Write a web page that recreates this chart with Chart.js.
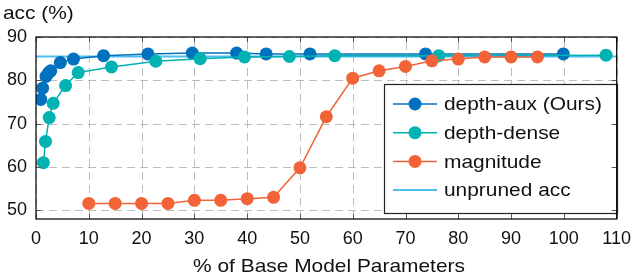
<!DOCTYPE html>
<html>
<head>
<meta charset="utf-8">
<script src="https://cdn.jsdelivr.net/npm/chart.js@4/dist/chart.umd.min.js"></script>
<style>
  html, body { margin: 0; padding: 0; background: #fff; }
  #wrap { width: 640px; height: 280px; position: relative; }
</style>
</head>
<body>
<div id="wrap"><canvas id="chart"></canvas></div>
<script>
// values
const auxX = [0.9, 1.25, 1.9, 2.4, 2.8, 4.6, 7.1, 12.8, 21.2, 29.6, 38, 43.6, 51.9, 73.8, 99.9];
const auxAcc = [75.6, 78.2, 80.9, 81.8, 82.2, 84.1, 84.9, 85.7, 86.1, 86.3, 86.3, 86.1, 86.1, 86.1, 86.1];

const denseX = [1.4, 1.8, 2.5, 3.25, 5.6, 8.0, 14.3, 22.7, 31.1, 39.5, 48.0, 56.6, 76.3, 108];
const denseAcc = [61.0, 65.9, 71.4, 74.7, 78.8, 81.8, 83.1, 84.4, 85.0, 85.4, 85.5, 85.7, 85.7, 85.8];

const magX = [10, 15, 20, 25, 30, 35, 40, 45, 50, 55, 60, 65, 70, 75, 80, 85, 90, 95];
const magAcc = [51.6, 51.6, 51.6, 51.6, 52.3, 52.3, 52.7, 53.0, 59.8, 71.6, 80.5, 82.2, 83.2, 84.5, 84.9, 85.4, 85.4, 85.4];

const unprunedX = [0, 110];
const unprunedAcc = [85.5, 85.5];

const xTicks = [0, 10, 20, 30, 40, 50, 60, 70, 80, 90, 100, 110];
const yTicks = [50, 60, 70, 80, 90];

const seriesNames = ['depth-aux (Ours)', 'depth-dense', 'magnitude', 'unpruned acc'];
const colors = ['#0072BD', '#00B2B2', '#F26337', '#4DBEEE'];
const xTitle = '% of Base Model Parameters';
const yTitle = 'acc (%)';

const FONT = '"Liberation Sans", Arial, Helvetica, sans-serif';

function pts(xs, ys) {
    return xs.map((x, i) => ({ x: x, y: ys[i] }));
}

// text in the original is set a little wider than the font
function wideText(ctx, text, x, y, align) {
    ctx.save();
    ctx.translate(x, y);
    ctx.scale(1.1, 1);
    ctx.textAlign = align;
    ctx.fillText(text, 0, 0);
    ctx.restore();
}

const boxLegend = {
    id: 'boxLegend',
    beforeDatasetsDraw(chart) {
        // dashed grid at each tick
        const a = chart.chartArea;
        const ctx = chart.ctx;
        const xs = chart.scales.x, ys = chart.scales.y;
        ctx.save();
        ctx.strokeStyle = '#bdbdbd';
        ctx.lineWidth = 1;
        ctx.setLineDash([8, 5]);
        xTicks.forEach(v => {
            const px = Math.round(xs.getPixelForValue(v)) + 0.5;
            ctx.beginPath();
            ctx.moveTo(px, a.bottom); ctx.lineTo(px, a.top);
            ctx.stroke();
        });
        yTicks.forEach(v => {
            const py = Math.round(ys.getPixelForValue(v)) + 0.5;
            ctx.beginPath();
            ctx.moveTo(a.left, py); ctx.lineTo(a.right, py);
            ctx.stroke();
        });
        ctx.restore();
    },
    afterDatasetsDraw(chart) {
        // legend inside the plot, like the original
        const ctx = chart.ctx;
        const x0 = 384, y0 = 84, w = 233, h = 129;
        ctx.save();
        ctx.fillStyle = '#fff';
        ctx.fillRect(x0, y0, w, h);
        ctx.strokeStyle = '#222';
        ctx.lineWidth = 1.2;
        ctx.strokeRect(x0 + 0.5, y0 + 0.5, w, h);
        ctx.font = '19px ' + FONT;
        ctx.textBaseline = 'middle';
        seriesNames.forEach((name, i) => {
            const cy = y0 + 20 + i * 28.7;
            ctx.strokeStyle = colors[i];
            ctx.lineWidth = i === 3 ? 2 : 1.5;
            ctx.beginPath();
            ctx.moveTo(x0 + 9, cy);
            ctx.lineTo(x0 + 53, cy);
            ctx.stroke();
            if (i < 3) {
                ctx.fillStyle = colors[i];
                ctx.beginPath();
                ctx.arc(x0 + 31, cy, 6.5, 0, Math.PI * 2);
                ctx.fill();
            }
            ctx.fillStyle = '#111';
            wideText(ctx, name, x0 + 60, cy + 1, 'left');
        });
        ctx.restore();
    },
    afterDraw(chart) {
        const a = chart.chartArea;
        const ctx = chart.ctx;
        ctx.save();
        // small inner tick marks on all four sides
        ctx.strokeStyle = '#555';
        ctx.lineWidth = 1;
        const xs = chart.scales.x, ys = chart.scales.y;
        xTicks.forEach(v => {
            const px = Math.round(xs.getPixelForValue(v)) + 0.5;
            ctx.beginPath();
            ctx.moveTo(px, a.bottom); ctx.lineTo(px, a.bottom - 5);
            ctx.moveTo(px, a.top); ctx.lineTo(px, a.top + 5);
            ctx.stroke();
        });
        yTicks.forEach(v => {
            const py = Math.round(ys.getPixelForValue(v)) + 0.5;
            ctx.beginPath();
            ctx.moveTo(a.left, py); ctx.lineTo(a.left + 5, py);
            ctx.moveTo(a.right, py); ctx.lineTo(a.right - 5, py);
            ctx.stroke();
        });
        ctx.strokeStyle = '#111';
        ctx.lineWidth = 1.3;
        ctx.strokeRect(a.left, a.top, a.right - a.left, a.bottom - a.top);
        // axis titles
        ctx.fillStyle = '#111';
        ctx.font = '19px ' + FONT;
        ctx.textBaseline = 'middle';
        wideText(ctx, yTitle, 3, 14, 'left');
        wideText(ctx, xTitle, 329, 267, 'center');
        ctx.restore();
    }
};

const lineSet = (label, data, color, order) => ({
    label: label,
    data: data,
    borderColor: color,
    backgroundColor: color,
    borderWidth: 1.5,
    pointRadius: 6.5,
    pointHoverRadius: 6.5,
    pointBorderWidth: 0,
    showLine: true,
    tension: 0,
    order: order
});

new Chart(document.getElementById('chart'), {
    type: 'scatter',
    data: {
        datasets: [
            lineSet(seriesNames[0], pts(auxX, auxAcc), colors[0], 3),
            lineSet(seriesNames[1], pts(denseX, denseAcc), colors[1], 2),
            lineSet(seriesNames[2], pts(magX, magAcc), colors[2], 1),
            {
                label: seriesNames[3],
                data: pts(unprunedX, unprunedAcc),
                borderColor: colors[3],
                borderWidth: 2,
                pointRadius: 0,
                showLine: true,
                order: 4
            }
        ]
    },
    options: {
        responsive: true,
        maintainAspectRatio: false,
        animation: false,
        layout: { padding: { top: 37, right: 17, left: 0, bottom: 0 } },
        plugins: {
            legend: { display: false },
            tooltip: { enabled: false }
        },
        scales: {
            x: {
                type: 'linear',
                min: 0,
                max: 110,
                afterBuildTicks: s => { s.ticks = xTicks.map(v => ({ value: v })); },
                afterFit: s => { s.height = 61; },
                ticks: { color: '#111', font: { family: FONT, size: 18 }, padding: 9, maxRotation: 0 },
                grid: { display: false, drawTicks: false },
                border: { display: false }
            },
            y: {
                type: 'linear',
                min: 48,
                max: 90,
                afterBuildTicks: s => { s.ticks = yTicks.map(v => ({ value: v })); },
                afterFit: s => { s.width = 36; },
                ticks: { color: '#111', font: { family: FONT, size: 18 }, padding: 9 },
                grid: { display: false, drawTicks: false },
                border: { display: false }
            }
        }
    },
    plugins: [boxLegend]
});
</script>
</body>
</html>
